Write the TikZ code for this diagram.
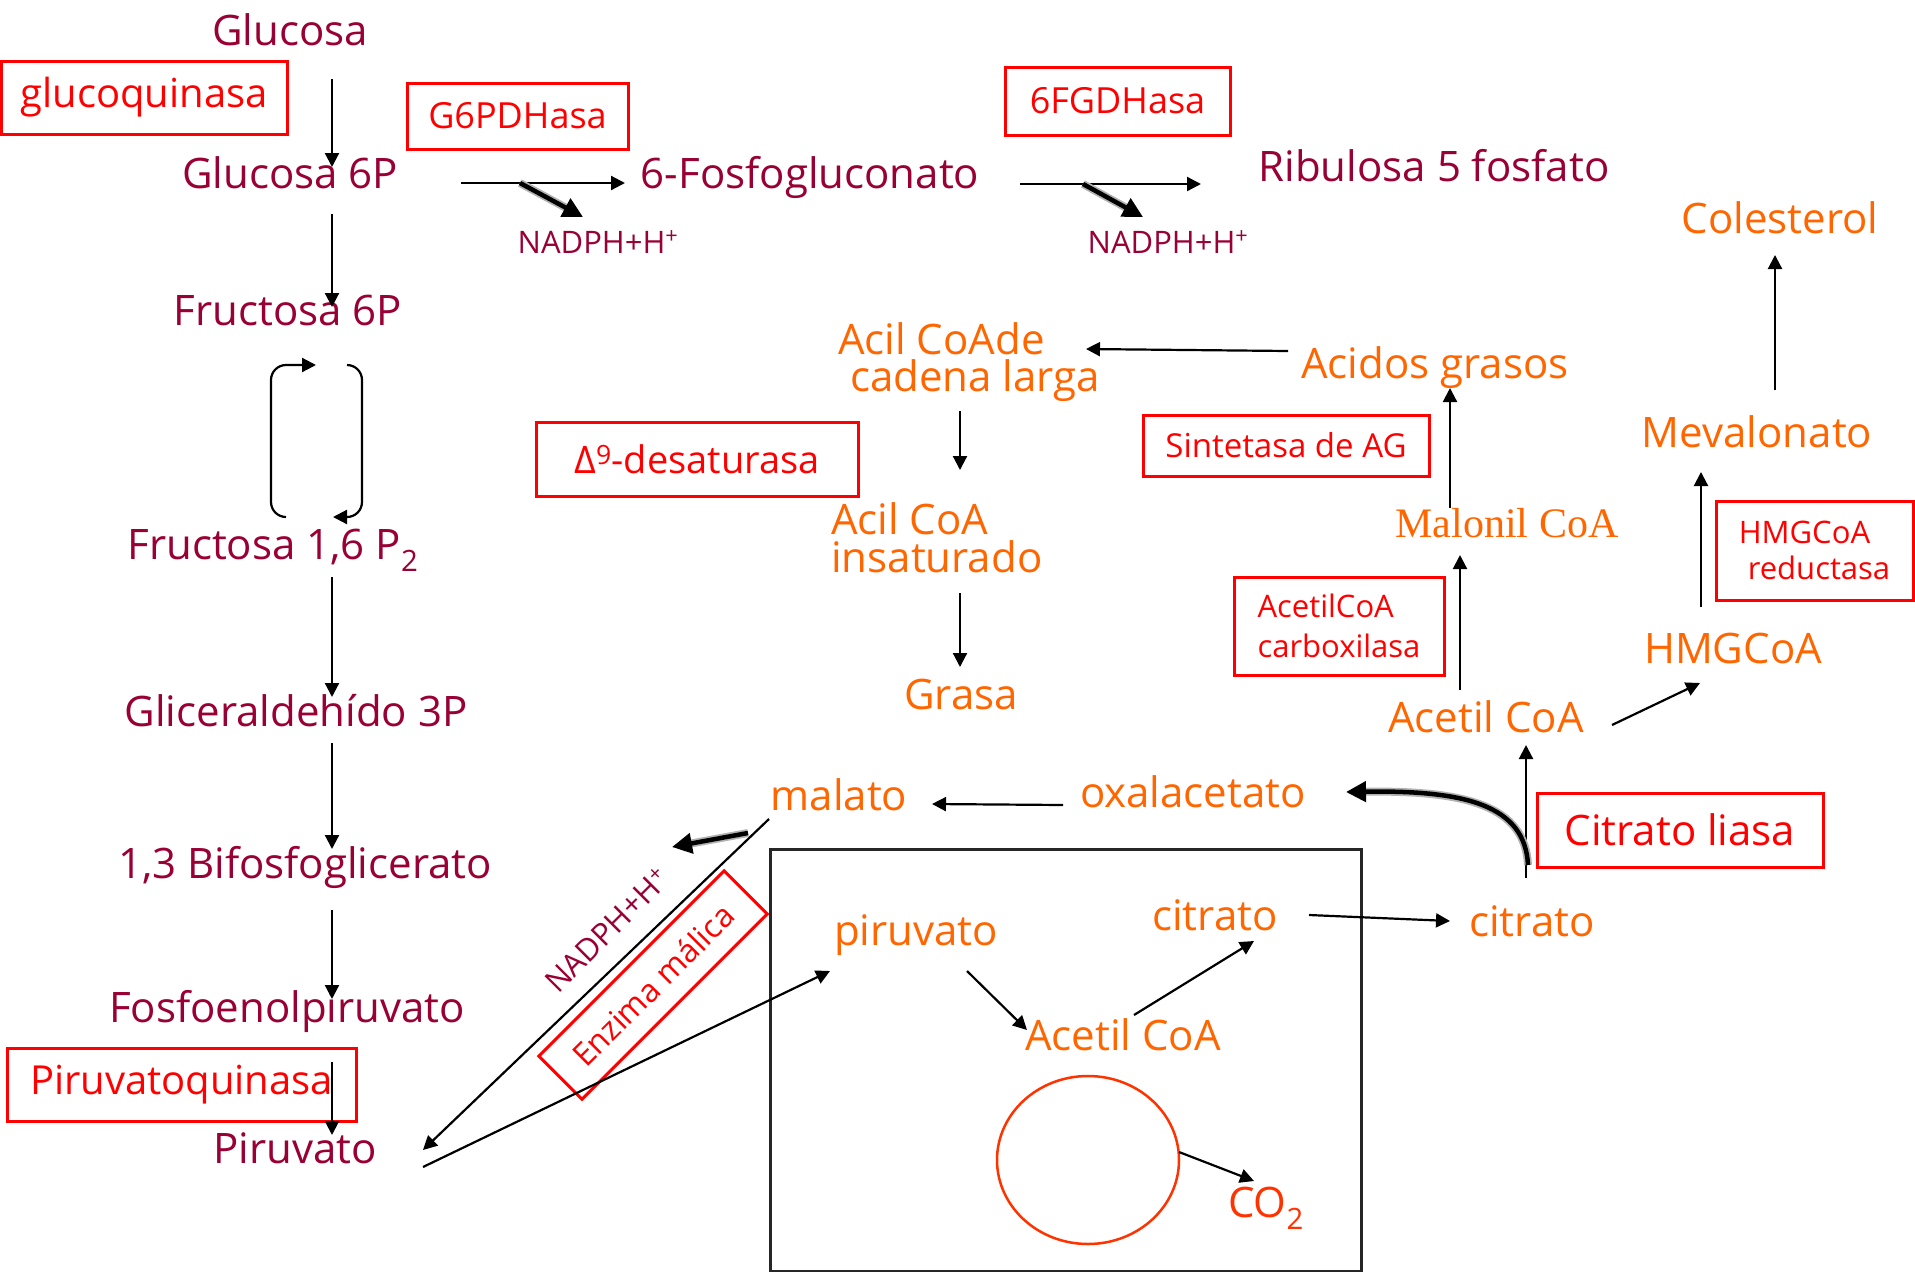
\documentclass[tikz,border=0pt]{standalone}
\usepackage{fontspec}
\setmainfont{Open Sans}
\newfontfamily\malfont{Liberation Serif}
\usetikzlibrary{arrows.meta,shapes.geometric}
\definecolor{metab}{HTML}{990033}
\definecolor{lipid}{HTML}{FF6600}
\definecolor{enz}{HTML}{FF0000}
\definecolor{oxid}{HTML}{FF3300}

\tikzset{
  met/.style={text=metab, inner sep=0pt, anchor=base, font=\fontsize{42}{50}\selectfont},
  lip/.style={text=lipid, inner sep=0pt, anchor=base, font=\fontsize{42}{50}\selectfont},
  cofac/.style={text=metab, inner sep=0pt, anchor=base, font=\fontsize{31}{37}\selectfont},
  enzbox/.style={draw=enz, line width=3pt, text=enz, inner sep=0pt, align=center},
  arr/.style={draw=black, line width=2.2pt, -{Triangle[length=14pt,width=14pt]}},
  fat/.style={draw=black, line width=4.5pt, -{Triangle[length=20pt,width=20pt]}},
  fathalo/.style={draw=black!30, line width=8pt, shorten >=16pt},
}

\begin{document}
\begin{tikzpicture}[x=1pt,y=-1pt]
\useasboundingbox (0,0) rectangle (1915,1272);

% ---------- glycolysis ----------
\node[met] (glc) at (290,45) {Glucosa};
\node[met] (g6p) at (290,188) {Glucosa 6P};
\node[met] (f6p) at (288,325) {Fructosa 6P};
\node[met] (f16) at (273,559) {Fructosa 1,6 P\textsubscript{2}};
\node[met] (gap) at (296,726) {Gliceraldehído 3P};
\node[met] (bpg) at (305,878) {1,3 Bifosfoglicerato};
\node[met] (pep) at (287,1022) {Fosfoenolpiruvato};
\node[met] (pyr) at (295,1163) {Piruvato};

\node[enzbox, font=\fontsize{40}{48}\selectfont, minimum width=286, minimum height=73] (gk) at (144,97.5) {glucoquinasa};
\node[enzbox, font=\fontsize{40}{48}\selectfont, minimum width=349, minimum height=73] (pk) at (181.5,1084.5) {Piruvatoquinasa};

% ---------- pentose phosphate ----------
\node[met] (pg6) at (810,188) {6-Fosfogluconato};
\node[met] (ru5p) at (1434,181) {Ribulosa 5 fosfato};
\node[cofac] (nad1) at (598,253) {NADPH+H\textsuperscript{+}};
\node[cofac] (nad2) at (1168,253) {NADPH+H\textsuperscript{+}};
\node[enzbox, font=\fontsize{36}{43}\selectfont, minimum width=221, minimum height=66] (g6pdh) at (517.5,116) {G6PDHasa};
\node[enzbox, font=\fontsize{36}{43}\selectfont, minimum width=225, minimum height=68] (pgdh) at (1117.5,101) {6FGDHasa};

% ---------- lipid synthesis ----------
\node[lip] (col) at (1780,233) {Colesterol};
\node[lip] (mev) at (1757,447) {Mevalonato};
\node[lip] (hmg) at (1733,663) {HMGCoA};
\node[lip] (aca) at (1486,732) {Acetil CoA};
\node[text=lipid, inner sep=0pt, anchor=base, font=\malfont\fontsize{42}{50}\selectfont] (mal) at (1507,537) {Malonil CoA};
\node[lip] (ag) at (1435,378) {Acidos grasos};
\node[text=lipid, inner sep=0pt, anchor=north west, align=left, font=\fontsize{42}{37}\selectfont] (acl) at (838,322) {Acil CoAde\\\hspace*{12pt}cadena larga};
\node[text=lipid, inner sep=0pt, anchor=north west, align=left, font=\fontsize{42}{38}\selectfont] (aci) at (831,502) {Acil CoA\\insaturado};
\node[lip] (gra) at (961,709) {Grasa};
\node[lip] (mlt) at (839,810) {malato};
\node[lip] (oaa) at (1193,807) {oxalacetato};
\node[lip] (cito) at (1532,936) {citrato};

\node[enzbox, font=\fontsize{33}{40}\selectfont, minimum width=286, minimum height=61] (fas) at (1286,445.5) {Sintetasa de AG};
\node[enzbox, font=\fontsize{38}{46}\selectfont, minimum width=322, minimum height=74] (des) at (697,459) {Δ\textsuperscript{9}-desaturasa};
\node[enzbox, align=left, font=\fontsize{31}{40}\selectfont, minimum width=210, minimum height=98] (acc) at (1339,626) {AcetilCoA\\carboxilasa};
\node[enzbox, align=left, font=\fontsize{31}{36}\selectfont, minimum width=197, minimum height=99] (hmgr) at (1814.5,550.5) {HMGCoA\\\hspace*{9pt}reductasa};
\node[enzbox, font=\fontsize{42}{50}\selectfont, minimum width=286, minimum height=74] (lia) at (1680,830) {Citrato liasa};

% malic enzyme shuttle
\node[enzbox, font=\fontsize{32}{38}\selectfont, minimum width=262, minimum height=61, rotate=45] (me) at (653,985) {Enzima málica};
\node[text=metab, inner sep=0pt, anchor=center, rotate=45, font=\fontsize{31}{37}\selectfont] (nad3) at (607,930) {NADPH+H\textsuperscript{+}};

% ---------- mitochondrion ----------
\node[draw=black!85, line width=3pt, minimum width=591, minimum height=422, inner sep=0pt] (mito) at (1065.5,1060) {};
\node[lip] (pyi) at (916,945) {piruvato};
\node[lip] (citi) at (1215,930) {citrato};
\node[lip] (acin) at (1123,1050) {Acetil CoA};
\node[draw=oxid, line width=2.5pt, ellipse, inner sep=0pt, minimum width=182, minimum height=168] (krebs) at (1088,1160) {};
\node[text=oxid, inner sep=0pt, anchor=base, font=\fontsize{42}{50}\selectfont] (co2) at (1266,1217) {CO\textsubscript{2}};

% ---------- connector end points ----------
\coordinate (glc-o) at (332,79);   \coordinate (g6p-i) at (332,167);
\coordinate (g6p-o) at (332,214);  \coordinate (f6p-i) at (332,307);
\coordinate (cyc-l) at (286,517);  \coordinate (cyc-lt) at (271,365); \coordinate (cyc-le) at (316,365);
\coordinate (cyc-r) at (347,365);  \coordinate (cyc-rb) at (362,517); \coordinate (cyc-re) at (333,517);
\coordinate (f16-o) at (332,577);  \coordinate (gap-i) at (332,697);
\coordinate (gap-o) at (332,743);  \coordinate (bpg-i) at (332,849);
\coordinate (bpg-o) at (332,910);  \coordinate (pep-i) at (332,999);
\coordinate (pep-o) at (332,1062); \coordinate (pyr-i) at (332,1135);
\coordinate (g6p-r) at (461,183);  \coordinate (pg6-l) at (625,183);
\coordinate (nad1-s) at (520,183); \coordinate (nad1-e) at (583,217);
\coordinate (pg6-r) at (1020,184); \coordinate (ru5p-l) at (1201,184);
\coordinate (nad2-s) at (1083,184); \coordinate (nad2-e) at (1143,217);
\coordinate (mev-o) at (1775,390); \coordinate (col-i) at (1775,255);
\coordinate (hmg-o) at (1701,607); \coordinate (mev-i) at (1701,472);
\coordinate (aca-r) at (1612,725); \coordinate (hmg-i) at (1700,683);
\coordinate (aca-u) at (1460,690); \coordinate (mal-i) at (1460,555);
\coordinate (mal-o) at (1450,508); \coordinate (ag-i) at (1450,388);
\coordinate (ag-l) at (1288,351);  \coordinate (acl-i) at (1086,349);
\coordinate (acl-o) at (960,411);  \coordinate (aci-i) at (960,470);
\coordinate (aci-o) at (960,593);  \coordinate (gra-i) at (960,667);
\coordinate (oaa-l) at (1063,805); \coordinate (mlt-i) at (932,804);
\coordinate (mlt-o) at (769,819);  \coordinate (pyr-r) at (423,1150);
\coordinate (pyr-o) at (423,1167); \coordinate (pyi-i) at (830,971);
\coordinate (nad3-s) at (748,833); \coordinate (nad3-e) at (672,847);
\coordinate (pyi-o) at (967,971);  \coordinate (acin-i) at (1027,1030);
\coordinate (acin-o) at (1134,1015); \coordinate (citi-i) at (1254,941);
\coordinate (citi-o) at (1309,915); \coordinate (cito-i) at (1450,921);
\coordinate (cito-u) at (1526,878); \coordinate (aca-i) at (1526,745);
\coordinate (lia-s) at (1528,865); \coordinate (oaa-r) at (1346,792);
\coordinate (krebs-o) at (1179,1152); \coordinate (co2-i) at (1254,1181);

% ---------- connectors ----------
\draw[arr] (glc-o) -- (g6p-i);
\draw[arr] (g6p-o) -- (f6p-i);
\draw[arr, rounded corners=15pt] (cyc-l) -| (cyc-lt) -- (cyc-le);
\draw[arr, rounded corners=15pt] (cyc-r) -| (cyc-rb) -- (cyc-re);
\draw[arr] (f16-o) -- (gap-i);
\draw[arr] (gap-o) -- (bpg-i);
\draw[arr] (bpg-o) -- (pep-i);
\draw[arr] (pep-o) -- (pyr-i);

\draw[arr] (g6p-r) -- (pg6-l);
\draw[fathalo] (nad1-s) -- (nad1-e);
\draw[fat] (nad1-s) -- (nad1-e);
\draw[arr] (pg6-r) -- (ru5p-l);
\draw[fathalo] (nad2-s) -- (nad2-e);
\draw[fat] (nad2-s) -- (nad2-e);

\draw[arr] (mev-o) -- (col-i);
\draw[arr] (hmg-o) -- (mev-i);
\draw[arr] (aca-r) -- (hmg-i);
\draw[arr] (aca-u) -- (mal-i);
\draw[arr] (mal-o) -- (ag-i);
\draw[arr] (ag-l) -- (acl-i);
\draw[arr] (acl-o) -- (aci-i);
\draw[arr] (aci-o) -- (gra-i);
\draw[arr] (oaa-l) -- (mlt-i);

\draw[arr] (mlt-o) -- (pyr-r);
\draw[arr] (pyr-o) -- (pyi-i);
\draw[fathalo] (nad3-s) -- (nad3-e);
\draw[fat] (nad3-s) -- (nad3-e);

\draw[arr] (pyi-o) -- (acin-i);
\draw[arr] (acin-o) -- (citi-i);
\draw[arr] (citi-o) -- (cito-i);
\draw[arr] (cito-u) -- (aca-i);
\draw[fathalo] (lia-s) .. controls (1525,805) and (1465,790) .. (oaa-r);
\draw[fat] (lia-s) .. controls (1525,805) and (1465,790) .. (oaa-r);
\draw[arr] (krebs-o) -- (co2-i);

\end{tikzpicture}
\end{document}
